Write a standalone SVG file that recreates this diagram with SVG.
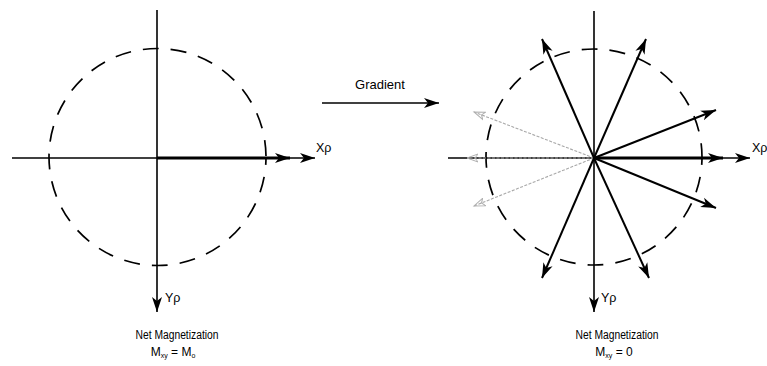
<svg xmlns="http://www.w3.org/2000/svg" width="767" height="366" viewBox="0 0 767 366">
  <style>
    .axis { stroke: #000; stroke-width: 1.6; fill: none; }
    .vec { stroke: #000; stroke-width: 2; fill: none; }
    .bold { stroke: #000; stroke-width: 3.2; fill: none; }
    .faint { stroke: #a8a8a8; stroke-width: 1.1; stroke-dasharray: 3 1.5; fill: none; }
    .ring { stroke: #000; stroke-width: 1.7; fill: none; stroke-dasharray: 16 12; stroke-dashoffset: 8; }
    text { font-family: "Liberation Sans", Arial, sans-serif; fill: #000; }
    .lbl { font-size: 12.5px; }
    .cap { font-size: 12px; text-anchor: middle; }
    .sub { font-size: 7px; }
  </style>
  <defs>
    <marker id="head" markerUnits="userSpaceOnUse" markerWidth="17" markerHeight="12" refX="15" refY="6" orient="auto">
      <path d="M0,1 L15,6 L0,11 L4,6 Z" fill="#000"/>
    </marker>
    <marker id="head-faint" markerUnits="userSpaceOnUse" markerWidth="14" markerHeight="10" refX="11" refY="5" orient="auto">
      <path d="M0,1 L11,5 L0,9 L3,5 Z" fill="none" stroke="#b0b0b0" stroke-width="1"/>
    </marker>
  </defs>

  <!-- Before the gradient: all spins in phase -->
  <g id="before">
    <circle class="ring" cx="157.5" cy="157" r="108.5"/>
    <line class="axis" x1="157" y1="10" x2="157" y2="312" marker-end="url(#head)"/>
    <line class="axis" x1="12" y1="158" x2="315" y2="158" marker-end="url(#head)"/>
    <line class="bold" x1="157" y1="158" x2="290" y2="158" marker-end="url(#head)"/>
    <text class="lbl" x="316" y="152">Xρ</text>
    <text class="lbl" x="165" y="302">Yρ</text>
    <text class="cap" x="177" y="339" textLength="83" lengthAdjust="spacingAndGlyphs">Net Magnetization</text>
    <text class="cap" x="173" y="356">M<tspan class="sub" dy="2">xy</tspan><tspan dy="-2"> = M</tspan><tspan class="sub" dy="2">o</tspan></text>
  </g>

  <!-- Gradient applied -->
  <g id="gradient">
    <line class="axis" x1="322" y1="103" x2="439" y2="103" marker-end="url(#head)"/>
    <text class="cap" x="380" y="89" style="font-size:13px">Gradient</text>
  </g>

  <!-- After the gradient: spins fanned out -->
  <g id="after">
    <circle class="ring" cx="594" cy="157" r="108"/>
    <line class="axis" x1="594" y1="11" x2="594" y2="312" marker-end="url(#head)"/>
    <line class="axis" x1="448" y1="158" x2="750" y2="158" marker-end="url(#head)"/>
    <g id="spins">
      <line class="faint" x1="594" y1="158" x2="474" y2="112" marker-end="url(#head-faint)"/>
      <line class="faint" x1="594" y1="158" x2="467" y2="158" marker-end="url(#head-faint)"/>
      <line class="faint" x1="594" y1="158" x2="474" y2="206" marker-end="url(#head-faint)"/>
      <line class="bold" x1="594" y1="158" x2="723" y2="158" marker-end="url(#head)"/>
      <line class="vec" x1="594" y1="158" x2="542" y2="39" marker-end="url(#head)"/>
      <line class="vec" x1="594" y1="158" x2="646" y2="39" marker-end="url(#head)"/>
      <line class="vec" x1="594" y1="158" x2="716" y2="110" marker-end="url(#head)"/>
      <line class="vec" x1="594" y1="158" x2="716" y2="208" marker-end="url(#head)"/>
      <line class="vec" x1="594" y1="158" x2="649" y2="278" marker-end="url(#head)"/>
      <line class="vec" x1="594" y1="158" x2="542" y2="278" marker-end="url(#head)"/>
    </g>
    <text class="lbl" x="752" y="152">Xρ</text>
    <text class="lbl" x="601" y="302">Yρ</text>
    <text class="cap" x="617" y="339" textLength="83" lengthAdjust="spacingAndGlyphs">Net Magnetization</text>
    <text class="cap" x="614" y="356">M<tspan class="sub" dy="2">xy</tspan><tspan dy="-2"> = 0</tspan></text>
  </g>
</svg>
